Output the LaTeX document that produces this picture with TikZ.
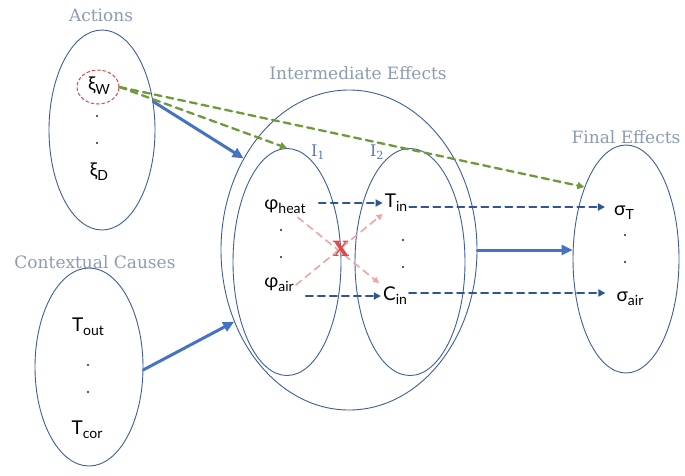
\documentclass[tikz,border=0pt]{standalone}
\usepackage{fontspec}
\setmainfont{Lato}
\newfontfamily\headfont{DejaVu Serif}
\usetikzlibrary{arrows.meta,shapes.geometric,positioning}
\definecolor{cauLine}{HTML}{3F5E9A}
\definecolor{cauBlue}{HTML}{4472C4}
\definecolor{cauNavy}{HTML}{2F5597}
\definecolor{cauGreen}{HTML}{6F9A3A}
\definecolor{cauPink}{HTML}{F4A3A3}
\definecolor{cauRed}{HTML}{E0474C}
\definecolor{cauHead}{HTML}{8D9CB0}
\definecolor{cauIdx}{HTML}{5A78B0}
\newcommand{\lo}[1]{\raisebox{-0.4ex}{\fontsize{14}{14}\selectfont #1}}

\begin{document}
\begin{tikzpicture}[x=1pt,y=-1pt,>=Latex,line cap=round,line join=round]
\path[fill=white] (0,0) rectangle (685,475);
\tikzset{set/.style={draw=cauLine,line width=0.9pt,ellipse,inner sep=0pt},item/.style={font=\fontsize{19}{19}\selectfont,inner sep=2pt},dotmark/.style={circle,fill=black!85,inner sep=0pt,minimum size=2.4pt},head/.style={font=\headfont\fontsize{17}{17}\selectfont,text=cauHead},flow/.style={draw=cauBlue,line width=3pt,-{Triangle[length=11pt,width=10pt]}},link/.style={draw=cauNavy,line width=1.9pt,dash pattern=on 7pt off 5pt,-{Triangle[length=7pt,width=7pt]}},act/.style={draw=cauGreen,line width=2.3pt,dash pattern=on 7pt off 5pt,-{Triangle[length=7pt,width=7pt]}},swap/.style={draw=cauPink,line width=1.6pt,dash pattern=on 7pt off 5pt,-{Triangle[length=6pt,width=6pt]}}}
\node[set,minimum width=106pt,minimum height=200pt] (acts) at (102,130) {};
\node[set,minimum width=108pt,minimum height=198pt] (ctx) at (89,367) {};
\node[set,minimum width=256pt,minimum height=320pt] (mid) at (349,250) {};
\node[set,minimum width=108pt,minimum height=227pt] (ione) at (287,262) {};
\node[set,minimum width=110pt,minimum height=227pt] (itwo) at (410,262) {};
\node[set,minimum width=106pt,minimum height=228pt] (fin) at (626,259) {};
\node[head] (hact) at (101,15) {Actions};
\node[head] (hmid) at (358,73) {Intermediate Effects};
\node[head] (hfin) at (626,137) {Final Effects};
\node[head] (hctx) at (95,262) {Contextual Causes};
\node[font=\headfont\fontsize{16}{16}\selectfont,text=cauIdx] (lone) at (318,152) {I\textsubscript{1}};
\node[font=\headfont\fontsize{16}{16}\selectfont,text=cauIdx] (ltwo) at (377,152) {I\textsubscript{2}};
\node[item] (xw) at (99,86) {ξ\lo{W}};
\node[draw=cauRed,ellipse,line width=1pt,dash pattern=on 3pt off 2.5pt,minimum width=42pt,minimum height=34pt,inner sep=0pt] (xring) at (98,87) {};
\node[dotmark] (adot1) at (97,116) {}; \node[dotmark] (adot2) at (97,143) {};
\node[item] (xd) at (99,172) {ξ\lo{D}};
\node[item] (tout) at (88,327) {T\lo{out}};
\node[dotmark] (cdot1) at (88,365) {}; \node[dotmark] (cdot2) at (88,392) {};
\node[item] (tcor) at (87,430) {T\lo{cor}};
\node[item] (ph) at (285,207) {φ\lo{heat}};
\node[dotmark] (pdot1) at (281,230) {}; \node[dotmark] (pdot2) at (281,257) {};
\node[item] (pa) at (279,285) {φ\lo{air}};
\node[item] (tin) at (396,203) {T\lo{in}};
\node[dotmark] (tdot1) at (403,240) {}; \node[dotmark] (tdot2) at (403,267) {};
\node[item] (cin) at (395,296) {C\lo{in}};
\node[item] (sT) at (624,213) {σ\lo{T}};
\node[dotmark] (fdot1) at (625,235) {}; \node[dotmark] (fdot2) at (625,262) {};
\node[item] (sair) at (630,299) {σ\lo{air}};
\draw[flow] (acts.29) -- (mid.139);
\draw[flow] (ctx.-3) -- (mid.212);
\draw[flow] (mid.east) -- (mid.east -| fin.west);
\draw[act] (xring.east) -- (ione.north);
\draw[act] (xring.east) -- (fin.120);
\draw[link,shorten <=11pt] (ph.east |- tin.west) -- (tin.west);
\draw[link,shorten <=10pt] (pa.east |- cin.west) -- (cin.west);
\draw[link,shorten >=7pt] ([yshift=-4pt]tin.east) -- ([yshift=-4pt]tin.east -| sT.west);
\draw[link,shorten >=9pt] ([yshift=3pt]cin.east) -- ([yshift=3pt]cin.east -| sair.west);
\draw[swap,shorten <=2pt,shorten >=3pt] (ph) -- (cin);
\draw[swap] (pa.east) -- (tin.south west);
\node[text=cauRed,font=\headfont\bfseries\fontsize{21}{21}\selectfont] (block) at (341,249) {X};
\end{tikzpicture}
\end{document}
